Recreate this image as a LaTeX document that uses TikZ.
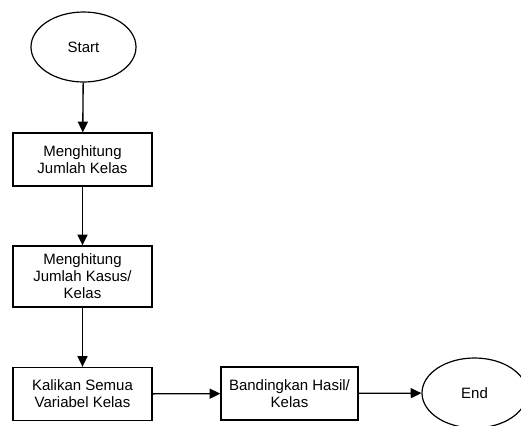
\documentclass[tikz,border=0pt]{standalone}
\usepackage{fontspec}
\setmainfont{Liberation Sans}
\usetikzlibrary{shapes.geometric,arrows.meta}
\begin{document}
\begin{tikzpicture}[x=0.75pt,y=-0.75pt,
  every node/.style={font=\fontsize{11.25pt}{12.8pt}\selectfont, align=center, inner sep=0pt},
  procbox/.style={draw, line width=1pt, rectangle, minimum width=104.25pt},
  term/.style={draw, line width=0.9pt, ellipse, minimum width=78.75pt, minimum height=52.5pt},
  flow/.style={draw, line width=1pt, -{Triangle[width=7.5pt,length=8pt]}}]
\useasboundingbox (0,0) rectangle (521,425);
\clip (0,0) rectangle (521,425);
\node[term] (start) at (83.5,47) {Start};
\node[procbox, minimum height=39.75pt] (b1) at (82.5,159.5) {Menghitung\\Jumlah Kelas};
\node[procbox, minimum height=45.75pt] (b2) at (82.5,276.5) {Menghitung\\Jumlah Kasus/\\Kelas};
\node[procbox, minimum height=39.75pt] (b3) at (82.5,394) {Kalikan Semua\\Variabel Kelas};
\node[procbox, minimum width=102.75pt, minimum height=39.75pt] (b4) at (289.5,393.5) {Bandingkan Hasil/\\Kelas};
\node[term] (end) at (474.5,393) {End};
\draw[flow] (start) -- (b1);
\draw[flow] (b1) -- (b2);
\draw[flow] (b2) -- (b3);
\draw[flow] (b3) -- (b4);
\draw[flow] (b4) -- (end);
\end{tikzpicture}
\end{document}
